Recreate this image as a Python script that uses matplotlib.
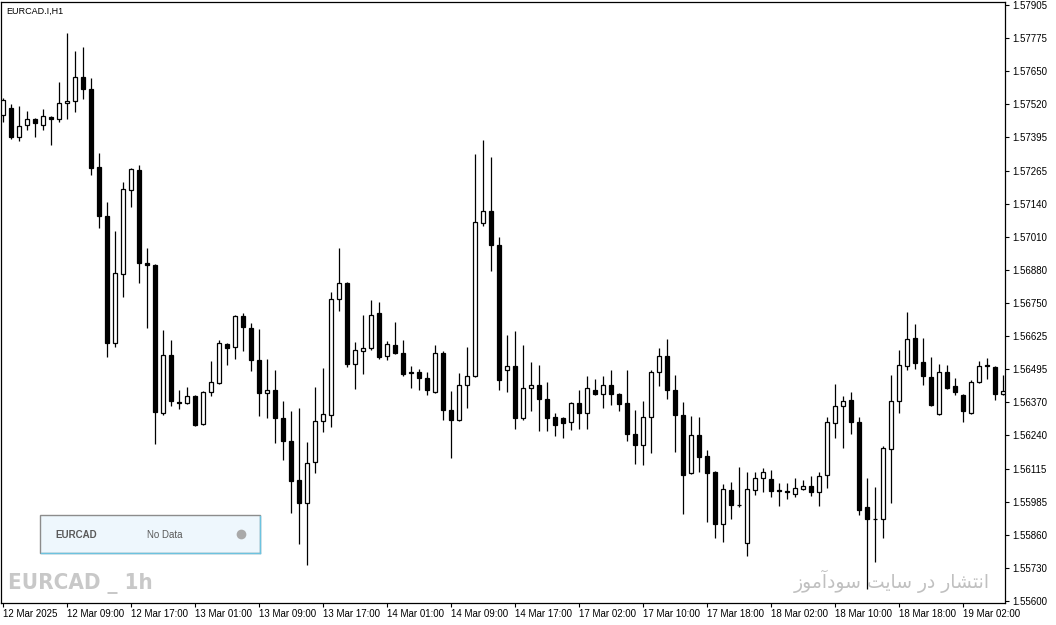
import numpy as np
import matplotlib
matplotlib.use("Agg")
import matplotlib.pyplot as plt
from matplotlib.patches import Rectangle
from matplotlib.lines import Line2D

# EURCAD H1 candles (bar 0 = 12 Mar 2025 00:00)
opens = [
    1.57480, 1.57507, 1.57395, 1.57441, 1.57464, 1.57441, 1.57472, 1.57464, 1.57526, 1.57534,
    1.57627, 1.57580, 1.57278, 1.57089, 1.56598, 1.56865, 1.57190, 1.57267, 1.56907, 1.56899,
    1.56327, 1.56551, 1.56368, 1.56366, 1.56393, 1.56285, 1.56408, 1.56443, 1.56594, 1.56582,
    1.56702, 1.56656, 1.56532, 1.56404, 1.56416, 1.56308, 1.56219, 1.56068, 1.55979, 1.56138,
    1.56296, 1.56319, 1.56768, 1.56830, 1.56517, 1.56567, 1.56578, 1.56714, 1.56548, 1.56590,
    1.56559, 1.56484, 1.56486, 1.56462, 1.56408, 1.56559, 1.56339, 1.56300, 1.56435, 1.56470,
    1.57062, 1.57108, 1.56977, 1.56493, 1.56509, 1.56308, 1.56424, 1.56435, 1.56381, 1.56312,
    1.56308, 1.56292, 1.56366, 1.56327, 1.56416, 1.56401, 1.56435, 1.56401, 1.56366, 1.56246,
    1.56203, 1.56312, 1.56486, 1.56548, 1.56416, 1.56319, 1.56095, 1.56242, 1.56161, 1.56099,
    1.55898, 1.56029, 1.55972, 1.55824, 1.56029, 1.56076, 1.56072, 1.56031, 1.56024, 1.56014,
    1.56033, 1.56045, 1.56022, 1.56087, 1.56288, 1.56354, 1.56377, 1.56292, 1.55964, 1.55919,
    1.55917, 1.56188, 1.56374, 1.56509, 1.56617, 1.56524, 1.56466, 1.56323, 1.56486, 1.56432,
    1.56397, 1.56327, 1.56447, 1.56511, 1.56505, 1.56401,
]
highs = [
    1.57545, 1.57522, 1.57514, 1.57495, 1.57468, 1.57503, 1.57476, 1.57607, 1.57797, 1.57727,
    1.57743, 1.57623, 1.57333, 1.57143, 1.57031, 1.57220, 1.57274, 1.57286, 1.56965, 1.56903,
    1.56648, 1.56609, 1.56416, 1.56428, 1.56397, 1.56412, 1.56528, 1.56609, 1.56598, 1.56706,
    1.56714, 1.56675, 1.56652, 1.56536, 1.56493, 1.56374, 1.56335, 1.56346, 1.56215, 1.56428,
    1.56501, 1.56795, 1.56965, 1.56834, 1.56602, 1.56706, 1.56764, 1.56756, 1.56606, 1.56679,
    1.56609, 1.56509, 1.56497, 1.56486, 1.56590, 1.56567, 1.56412, 1.56482, 1.56582, 1.57329,
    1.57383, 1.57317, 1.57008, 1.56629, 1.56644, 1.56590, 1.56524, 1.56513, 1.56447, 1.56327,
    1.56312, 1.56370, 1.56416, 1.56470, 1.56459, 1.56470, 1.56493, 1.56404, 1.56493, 1.56339,
    1.56374, 1.56493, 1.56578, 1.56613, 1.56474, 1.56370, 1.56316, 1.56312, 1.56184, 1.56103,
    1.56053, 1.56060, 1.56118, 1.56099, 1.56099, 1.56114, 1.56107, 1.56056, 1.56056, 1.56076,
    1.56068, 1.56083, 1.56099, 1.56312, 1.56439, 1.56393, 1.56408, 1.56312, 1.56076, 1.56041,
    1.56199, 1.56474, 1.56571, 1.56718, 1.56671, 1.56617, 1.56544, 1.56517, 1.56513, 1.56462,
    1.56401, 1.56455, 1.56528, 1.56540, 1.56509, 1.56474,
]
lows = [
    1.57453, 1.57387, 1.57379, 1.57422, 1.57395, 1.57422, 1.57364, 1.57453, 1.57464, 1.57491,
    1.57541, 1.57248, 1.57043, 1.56544, 1.56582, 1.56776, 1.57124, 1.56830, 1.56656, 1.56207,
    1.56319, 1.56354, 1.56343, 1.56362, 1.56277, 1.56281, 1.56393, 1.56439, 1.56513, 1.56536,
    1.56567, 1.56490, 1.56316, 1.56308, 1.56211, 1.56145, 1.55940, 1.55820, 1.55739, 1.56095,
    1.56254, 1.56273, 1.56722, 1.56505, 1.56420, 1.56478, 1.56571, 1.56536, 1.56532, 1.56555,
    1.56470, 1.56424, 1.56416, 1.56397, 1.56404, 1.56300, 1.56153, 1.56296, 1.56346, 1.56466,
    1.57050, 1.56876, 1.56416, 1.56408, 1.56265, 1.56300, 1.56335, 1.56257, 1.56257, 1.56238,
    1.56230, 1.56261, 1.56265, 1.56265, 1.56397, 1.56346, 1.56358, 1.56335, 1.56219, 1.56130,
    1.56126, 1.56172, 1.56432, 1.56381, 1.56176, 1.55936, 1.56091, 1.56099, 1.55906, 1.55844,
    1.55828, 1.55917, 1.55964, 1.55774, 1.56010, 1.56022, 1.56002, 1.55967, 1.55995, 1.56002,
    1.56029, 1.56006, 1.55967, 1.56037, 1.56230, 1.56192, 1.56246, 1.55933, 1.55646, 1.55751,
    1.55844, 1.55979, 1.56327, 1.56493, 1.56497, 1.56435, 1.56354, 1.56319, 1.56420, 1.56397,
    1.56292, 1.56323, 1.56443, 1.56459, 1.56377, 1.56397,
]
closes = [
    1.57538, 1.57395, 1.57437, 1.57464, 1.57449, 1.57476, 1.57464, 1.57526, 1.57534, 1.57627,
    1.57580, 1.57275, 1.57089, 1.56598, 1.56869, 1.57193, 1.57271, 1.56907, 1.56899, 1.56331,
    1.56551, 1.56374, 1.56366, 1.56393, 1.56281, 1.56408, 1.56447, 1.56598, 1.56578, 1.56702,
    1.56660, 1.56532, 1.56404, 1.56416, 1.56308, 1.56219, 1.56064, 1.55979, 1.56134, 1.56296,
    1.56323, 1.56768, 1.56830, 1.56517, 1.56571, 1.56578, 1.56706, 1.56544, 1.56594, 1.56559,
    1.56478, 1.56482, 1.56462, 1.56416, 1.56559, 1.56339, 1.56300, 1.56435, 1.56470, 1.57066,
    1.57108, 1.56977, 1.56455, 1.56509, 1.56308, 1.56424, 1.56435, 1.56381, 1.56308, 1.56281,
    1.56288, 1.56366, 1.56327, 1.56424, 1.56401, 1.56435, 1.56401, 1.56362, 1.56246, 1.56203,
    1.56312, 1.56486, 1.56548, 1.56416, 1.56319, 1.56087, 1.56242, 1.56157, 1.56095, 1.55898,
    1.56033, 1.55971, 1.55971, 1.56033, 1.56076, 1.56099, 1.56025, 1.56027, 1.56020, 1.56037,
    1.56045, 1.56022, 1.56083, 1.56292, 1.56354, 1.56374, 1.56292, 1.55952, 1.55917, 1.55917,
    1.56192, 1.56374, 1.56513, 1.56613, 1.56520, 1.56470, 1.56358, 1.56486, 1.56424, 1.56408,
    1.56335, 1.56447, 1.56509, 1.56507, 1.56401, 1.56412,
]

time_labels = ["12 Mar 2025", "12 Mar 09:00", "12 Mar 17:00", "13 Mar 01:00",
               "13 Mar 09:00", "13 Mar 17:00", "14 Mar 01:00", "14 Mar 09:00",
               "14 Mar 17:00", "17 Mar 02:00", "17 Mar 10:00", "17 Mar 18:00",
               "18 Mar 02:00", "18 Mar 10:00", "18 Mar 18:00", "19 Mar 02:00"]
price_labels = ["1.55600", "1.55730", "1.55860", "1.55985", "1.56115", "1.56240",
                "1.56370", "1.56495", "1.56625", "1.56750", "1.56880", "1.57010",
                "1.57140", "1.57265", "1.57395", "1.57520", "1.57650", "1.57775",
                "1.57905"]

W, H = 1056, 625
fig = plt.figure(figsize=(W / 100, H / 100), dpi=100)
ax = fig.add_axes([1 / W, 1 - 603 / H, 1004 / W, 601 / H])

o = np.array(opens)
c = np.array(closes)
n = np.arange(len(o))
up = c >= o

ax.vlines(n, lows, highs, color="black", linewidth=0.9, zorder=2)
ax.bar(n, np.abs(c - o), bottom=np.minimum(o, c), width=0.5,
       color=np.where(up, "white", "black"), edgecolor="black",
       linewidth=0.9, zorder=3)

ax.set_xlim(-0.25, 125.25)
ax.set_ylim(1.555923, 1.579166)

ax.set_xticks(n[::8])
ax.set_xticklabels(time_labels, ha="left", family="Liberation Sans", fontsize=7)
ax.set_yticks(np.linspace(1.556, 1.57905, len(price_labels)))
ax.set_yticklabels(price_labels, family="Liberation Sans", fontsize=7)
ax.yaxis.tick_right()
ax.tick_params(axis="x", length=3, width=0.8, pad=1.5)
ax.tick_params(axis="y", length=3, width=0.8, pad=2)
for s in ax.spines.values():
    s.set_linewidth(0.9)

fig.text(6 / W, 1 - 11 / H, "EURCAD.I,H1", fontsize=6.5, family="Liberation Sans",
         va="center", ha="left")

# info panel
fig.add_artist(Rectangle((40 / W, 1 - 553 / H), 220 / W, 38 / H, transform=fig.transFigure,
                         facecolor="#eef7fd", edgecolor="#8c8c8c", linewidth=1))
fig.add_artist(Line2D([260 / W, 260 / W], [1 - 553 / H, 1 - 516 / H], transform=fig.transFigure,
                      color="#6cc3e0", linewidth=1))
fig.add_artist(Line2D([41 / W, 260 / W], [1 - 553 / H, 1 - 553 / H], transform=fig.transFigure,
                      color="#6cc3e0", linewidth=1))
fig.text(55 / W, 1 - 535 / H, "EURCAD", fontsize=7, family="Liberation Sans", fontweight="bold",
         color="#5a5a5a", va="center")
fig.text(147 / W, 1 - 535 / H, "No Data", fontsize=7, family="Liberation Sans",
         color="#5a5a5a", va="center")
fig.add_artist(Line2D([241 / W], [1 - 534 / H], transform=fig.transFigure, marker="o",
                      markersize=7, markerfacecolor="#a9a9a9", markeredgecolor="none",
                      linestyle="none"))

# watermarks
fig.text(8 / W, 1 - 584 / H, "EURCAD _ 1h", fontsize=16, fontweight="bold",
         fontstretch="condensed", family="DejaVu Sans", color="#c8c8c8", va="center")
# "انتشار در سایت سودآموز" in presentation forms, visual order
persian = ("\ufeaf\ufeee\ufee3\ufe81\ufea9\ufeee\ufeb3 \ufe96\ufef3\ufe8e\ufeb3 "
           "\ufead\ufea9 \ufead\ufe8e\ufeb8\ufe98\ufee7\ufe8d")
fig.text(990 / W, 1 - 581 / H, persian, fontsize=13.5, family="DejaVu Sans",
         color="#c0c0c0", va="center", ha="right")

fig.savefig("out.png", dpi=100)
